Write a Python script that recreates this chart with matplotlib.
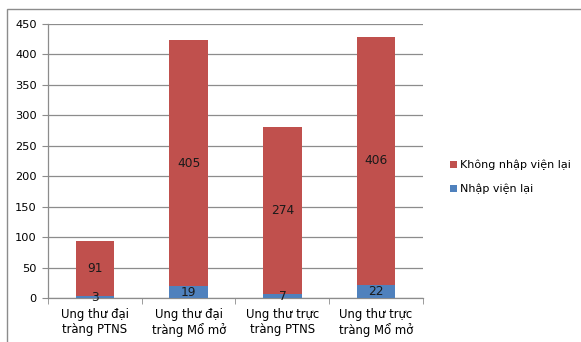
import matplotlib.pyplot as plt
import numpy as np
from matplotlib.patches import Rectangle

categories = ["Ung thư đại\ntràng PTNS", "Ung thư đại\ntràng Mổ mở",
              "Ung thư trực\ntràng PTNS", "Ung thư trực\ntràng Mổ mở"]
readmitted = [3, 19, 7, 22]
not_readmitted = [91, 405, 274, 406]
series_names = ["Không nhập viện lại", "Nhập viện lại"]

RED = "#C0504D"
BLUE = "#4F81BD"
GRID = "#8C8C8C"

plt.rcParams["font.family"] = ["DejaVu Sans"]
plt.rcParams["font.size"] = 8

fig = plt.figure(figsize=(5.81, 3.42), dpi=100)
W, H = 581, 342
ax = fig.add_axes([48 / W, 1 - 298 / H, (423 - 48) / W, (298 - 24) / H])

x = np.arange(len(categories))
b1 = ax.bar(x, readmitted, width=0.41, color=BLUE, label=series_names[1], zorder=3)
b2 = ax.bar(x, not_readmitted, width=0.41, bottom=readmitted, color=RED,
            label=series_names[0], zorder=3)

for i in range(len(categories)):
    ax.text(x[i], readmitted[i] / 2 - 1, str(readmitted[i]), ha="center", va="center",
            color="#1a1a1a", fontsize=8.8, zorder=4)
    ax.text(x[i], readmitted[i] + not_readmitted[i] / 2, str(not_readmitted[i]),
            ha="center", va="center", color="#1a1a1a", fontsize=8.8, zorder=4)

ax.set_xlim(-0.5, len(categories) - 0.5)
ax.set_ylim(0, 450)
ax.set_yticks(np.arange(0, 451, 50))
ax.yaxis.grid(True, color=GRID, linewidth=0.9, zorder=0)
ax.set_axisbelow(True)

ax.set_xticks(x)
ax.set_xticklabels(categories, linespacing=1.25, fontsize=8.4)
ax.set_xticks(np.arange(-0.5, len(categories), 1), minor=True)
ax.tick_params(axis="x", which="major", length=0, pad=7)
ax.tick_params(axis="x", which="minor", length=4, color=GRID, direction="out")
ax.tick_params(axis="y", length=4, color=GRID, pad=4, labelsize=8.2)

for side in ["top", "right"]:
    ax.spines[side].set_visible(False)
for side in ["left", "bottom"]:
    ax.spines[side].set_color(GRID)
    ax.spines[side].set_linewidth(0.9)

leg = fig.legend(handles=[b2, b1], labels=series_names, loc="center left",
                 bbox_to_anchor=(440 / W, 1 - 177 / H), frameon=False,
                 handlelength=0.6, handleheight=0.6, handletextpad=0.3,
                 labelspacing=1.2, fontsize=8)

fig.patches.append(Rectangle((7 / W, -0.1), 1.0, 1 - 9 / H + 0.1,
                             transform=fig.transFigure, fill=False,
                             edgecolor="#8C8C8C", linewidth=1.0))

fig.savefig("out.png", dpi=100)
